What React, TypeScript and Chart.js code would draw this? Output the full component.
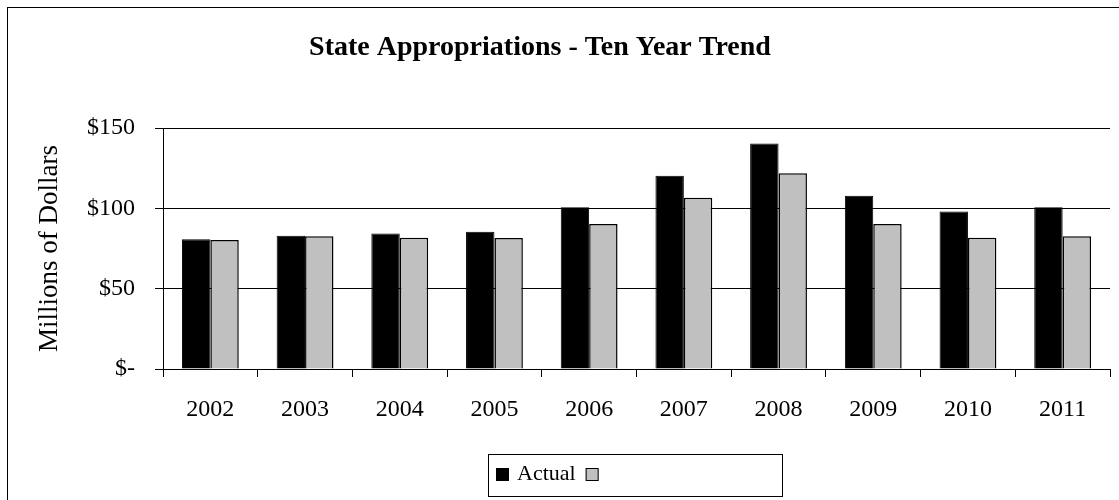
import React, { useEffect, useRef } from "react";
import { Chart, registerables } from "chart.js";

Chart.register(...registerables);

const categories = ["2002", "2003", "2004", "2005", "2006", "2007", "2008", "2009", "2010", "2011"];
const actualValues = [80.7, 83.0, 84.4, 85.4, 100.6, 120.3, 140.4, 107.8, 98.1, 100.6];
const secondValues = [80.3, 82.6, 81.7, 81.5, 90.3, 106.6, 121.8, 90.2, 81.7, 82.6];
const seriesLabels = ["Actual", ""];
const chartTitle = "State Appropriations - Ten Year Trend";
const yAxisTitle = "Millions of Dollars";
const yTickValues = [0, 50, 100, 150];

const FONT = "'Liberation Serif', 'Times New Roman', serif";

const decorPlugin = {
  id: "decor",
  beforeDraw(chart: any) {
    const ctx = chart.ctx;
    ctx.save();
    ctx.fillStyle = "#ffffff";
    ctx.fillRect(0, 0, chart.width, chart.height);
    ctx.restore();
  },
  afterDraw(chart: any) {
    const ctx = chart.ctx;
    ctx.save();
    // outer border (right and bottom edges lie outside the picture)
    ctx.strokeStyle = "#000000";
    ctx.lineWidth = 1;
    ctx.strokeRect(7.5, 7.5, 1200, 600);
    // title
    ctx.fillStyle = "#000000";
    ctx.font = `bold 28px ${FONT}`;
    ctx.textAlign = "center";
    ctx.textBaseline = "alphabetic";
    ctx.fillText(chartTitle, 540, 55);
    // legend
    const lx = 488, ly = 454, lw = 294, lh = 42;
    ctx.strokeRect(lx + 0.5, ly + 0.5, lw, lh);
    ctx.font = `22px ${FONT}`;
    ctx.textAlign = "left";
    let x = 496;
    chart.data.datasets.forEach((ds: any) => {
      ctx.fillStyle = ds.backgroundColor;
      ctx.fillRect(x, 468, 13, 13);
      ctx.strokeStyle = "#000";
      ctx.strokeRect(x + 0.5, 468.5, 12, 12);
      x += 21;
      if (ds.label) {
        ctx.fillStyle = "#000";
        ctx.fillText(ds.label, x, 480);
        x += ctx.measureText(ds.label).width + 10;
      }
    });
    ctx.restore();
  },
};

export default function App() {
  const ref = useRef<HTMLCanvasElement>(null);
  useEffect(() => {
    document.body.style.margin = "0";
    const chart = new Chart(ref.current as HTMLCanvasElement, {
      type: "bar",
      data: {
        labels: categories,
        datasets: [
          {
            label: seriesLabels[0],
            data: actualValues,
            backgroundColor: "#000000",
            borderColor: "#000000",
            borderWidth: 1,
          },
          {
            label: seriesLabels[1],
            data: secondValues,
            backgroundColor: "#C0C0C0",
            borderColor: "#000000",
            borderWidth: 1.5,
          },
        ],
      },
      options: {
        animation: false,
        responsive: false,
        devicePixelRatio: 1,
        categoryPercentage: 0.6,
        barPercentage: 1.0,
        layout: { padding: { left: 0, right: 9, top: 128, bottom: 71 } },
        plugins: {
          legend: { display: false },
          title: { display: false },
          tooltip: { enabled: false },
        },
        scales: {
          x: {
            afterFit: (s: any) => {
              s.height = 60;
            },
            grid: {
              offset: true,
              drawOnChartArea: false,
              drawTicks: true,
              tickLength: 8,
              color: "#000000",
            },
            border: { display: true, color: "#000000" },
            ticks: {
              color: "#000000",
              font: { family: FONT, size: 24 },
              padding: 18,
              maxRotation: 0,
            },
          },
          y: {
            min: 0,
            max: 150,
            afterFit: (s: any) => {
              s.width = 163;
            },
            afterBuildTicks: (s: any) => {
              s.ticks = yTickValues.map((v) => ({ value: v }));
            },
            grid: {
              drawOnChartArea: true,
              drawTicks: true,
              tickLength: 8,
              color: "#000000",
            },
            border: { display: true, color: "#000000" },
            ticks: {
              color: "#000000",
              font: { family: FONT, size: 24 },
              padding: 20,
              callback: (v: any) => (Number(v) === 0 ? "$-" : "$" + v),
            },
            title: {
              display: true,
              text: yAxisTitle,
              color: "#000000",
              font: { family: FONT, size: 27 },
              padding: { top: 34, bottom: 0 },
            },
          },
        },
      },
      plugins: [decorPlugin],
    });
    return () => chart.destroy();
  }, []);
  return <canvas ref={ref} width={1119} height={500} style={{ display: "block" }} />;
}
